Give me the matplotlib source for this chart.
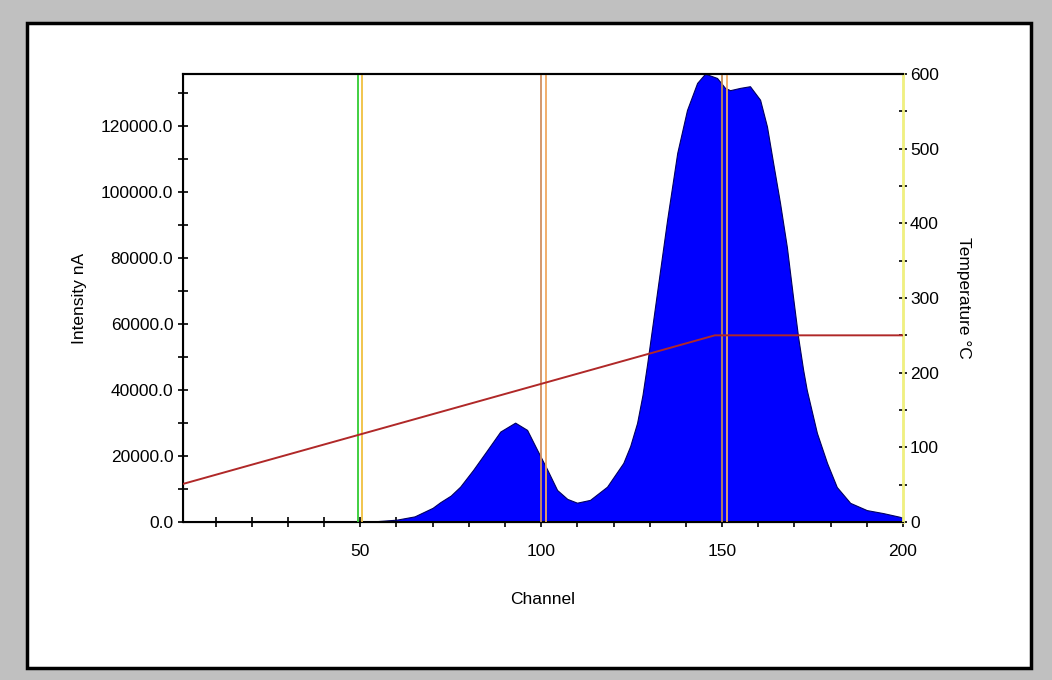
import matplotlib
matplotlib.use("Agg")
import matplotlib.pyplot as plt
from matplotlib.patches import Rectangle
from matplotlib.ticker import MultipleLocator, FormatStrFormatter

# intensity trace
channel = [1, 52, 55, 60, 65, 70, 72.1, 75, 77.6, 81.2, 85.1, 88.7, 92.8,
           96.1, 98.9, 101.7, 104.4, 107.2, 109.9, 113.5, 118.2, 122.7,
           124.6, 126.5, 128, 129.3, 132, 134.8, 137.6, 140.3, 143.1, 145.3,
           148.6, 150.8, 152.2, 155, 157.7, 160.5, 162.4, 164.1, 166, 167.9,
           169.6, 171, 172.4, 173.4, 176.2, 179, 181.7, 185.4, 190, 194.5,
           199, 200]
intensity = [0, 0, 300, 700, 1700, 4300, 6000, 8000, 10700, 15800, 21800,
             27400, 30100, 27900, 21800, 15800, 9700, 7000, 5850, 6700,
             10700, 17900, 23000, 30000, 38500, 48000, 69400, 91500, 111800,
             124800, 133000, 135800, 134500, 131500, 130800, 131500, 132000,
             127900, 119800, 108800, 96700, 83300, 68200, 56100, 46100, 40000,
             27000, 17900, 10600, 5800, 3600, 2700, 1600, 1200]

# temperature program
temp_channel = [1, 148, 200]
temp_value = [51, 250, 250]

# marker lines
marker_pos = [49.5, 50.5, 100, 101.4, 150, 151.4]
marker_col = ["#33cc33", "#f0c040", "#d09060", "#f0a860", "#c08850", "#f0a860"]

plt.rcParams["font.family"] = ["Liberation Sans", "DejaVu Sans"]
fs = 12.5

fig = plt.figure(figsize=(10.52, 6.80), dpi=100)
fig.patch.set_facecolor("#c0c0c0")
panel = Rectangle((27 / 1052, 1 - 668 / 680), 1004 / 1052, 645 / 680,
                  transform=fig.transFigure, facecolor="white",
                  edgecolor="black", linewidth=2.5, zorder=-5)
fig.add_artist(panel)

ax = fig.add_axes([183 / 1052, 1 - 522 / 680, 720 / 1052, 448 / 680])
ax.set_facecolor("white")
ax.fill_between(channel, intensity, 0, facecolor="#0000ff",
                edgecolor="#000060", linewidth=0.8, zorder=2)
ax.set_xlim(1, 200)
ax.set_ylim(0, 135700)

for xp, c in zip(marker_pos, marker_col):
    ax.axvline(xp, color=c, linewidth=1.3, zorder=3)

ax.xaxis.set_major_locator(MultipleLocator(50))
ax.xaxis.set_minor_locator(MultipleLocator(10))
ax.yaxis.set_major_locator(MultipleLocator(20000))
ax.yaxis.set_minor_locator(MultipleLocator(10000))
ax.yaxis.set_major_formatter(FormatStrFormatter("%.1f"))
ax.tick_params(which="both", direction="inout", length=7, width=1.2,
               labelsize=fs, colors="black")
ax.tick_params(axis="x", pad=12)
ax.set_xlabel("Channel", fontsize=fs, labelpad=24)
ax.set_ylabel("Intensity nA", fontsize=fs, labelpad=10)
for s in ["left", "bottom", "top"]:
    ax.spines[s].set_linewidth(1.5)

ax2 = ax.twinx()
ax2.plot(temp_channel, temp_value, color="#b02828", linewidth=1.4, zorder=4)
ax2.set_ylim(0, 600)
ax2.yaxis.set_major_locator(MultipleLocator(100))
ax2.yaxis.set_minor_locator(MultipleLocator(50))
ax2.tick_params(which="both", direction="inout", length=6, width=1.2,
                labelsize=fs, pad=2)
ax2.spines["right"].set_color("#f0f080")
ax2.spines["right"].set_linewidth(2)
ax2.spines["top"].set_linewidth(1.5)
ax2.set_ylabel("Temperature °C", fontsize=fs, rotation=270, labelpad=23)

fig.savefig("out.png", dpi=100, facecolor=fig.get_facecolor())
